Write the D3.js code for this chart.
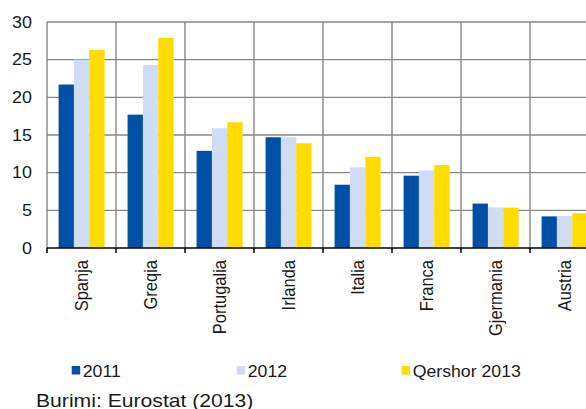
<!DOCTYPE html>
<html>
<head>
<meta charset="utf-8">
<script src="https://cdn.jsdelivr.net/npm/d3@7"></script>
<style>
  html, body { margin: 0; padding: 0; background: #fff; }
  svg { display: block; }
</style>
</head>
<body>
<svg id="chart" width="586" height="409"></svg>
<script>
// Countries and values (percent) for each period
const categories = ["Spanja", "Greqia", "Portugalia", "Irlanda", "Italia", "Franca", "Gjermania", "Austria"];
const seriesNames = ["2011", "2012", "Qershor 2013"];
const values2011 = [21.7, 17.7, 12.9, 14.7, 8.4, 9.6, 5.9, 4.2];
const values2012 = [25.0, 24.3, 15.9, 14.7, 10.7, 10.3, 5.4, 4.25];
const valuesJun2013 = [26.3, 27.9, 16.7, 13.9, 12.1, 11.0, 5.35, 4.6];
const yTicks = [0, 5, 10, 15, 20, 25, 30];
const colors = ["#0050a5", "#cfdcf2", "#ffdc00"];

const FONT = "'Liberation Sans', Arial, Helvetica, sans-serif";
const seriesValues = [values2011, values2012, valuesJun2013];
const svg = d3.select("#chart");

const plot = { left: 47, top: 22, bottom: 248, right: 599 };
const sx = 1.12; // horizontal text stretch

const x = d3.scaleBand().domain(categories).range([plot.left, plot.right]).padding(0);
const bw = x.bandwidth();
const xs = d3.scaleBand().domain(seriesNames).range([bw * 0.168, bw * 0.835]).padding(0);
const y = d3.scaleLinear().domain([0, 30]).range([plot.bottom, plot.top]);

// Horizontal gridlines
svg.append("g").selectAll("line").data(yTicks.filter(d => d > 0)).join("line")
  .attr("x1", plot.left).attr("x2", plot.right)
  .attr("y1", d => y(d)).attr("y2", d => y(d))
  .attr("stroke", "#878787").attr("stroke-width", 1.4);

// Vertical gridlines at category boundaries
const bounds = categories.map(c => x(c)).concat([plot.right]);
svg.append("g").selectAll("line").data(bounds).join("line")
  .attr("x1", d => d).attr("x2", d => d)
  .attr("y1", plot.top).attr("y2", plot.bottom)
  .attr("stroke", "#878787").attr("stroke-width", 1.4);

// Bars
const groups = svg.append("g").selectAll("g").data(categories).join("g")
  .attr("transform", c => `translate(${x(c)},0)`);
groups.selectAll("rect")
  .data((c, i) => seriesNames.map((s, k) => ({ s, k, v: seriesValues[k][i] })))
  .join("rect")
  .attr("x", d => xs(d.s))
  .attr("width", xs.bandwidth())
  .attr("y", d => y(d.v))
  .attr("height", d => y(0) - y(d.v))
  .attr("fill", d => colors[d.k]);

// Baseline with ticks
svg.append("line")
  .attr("x1", plot.left).attr("x2", plot.right)
  .attr("y1", y(0)).attr("y2", y(0))
  .attr("stroke", "#000").attr("stroke-width", 1.5);
svg.append("g").selectAll("line").data(bounds).join("line")
  .attr("x1", d => d).attr("x2", d => d)
  .attr("y1", y(0)).attr("y2", y(0) + 5)
  .attr("stroke", "#000").attr("stroke-width", 1.5);

// Y tick labels
svg.append("g").selectAll("text").data(yTicks).join("text")
  .attr("transform", d => `translate(32,${y(d)}) scale(${sx},1)`)
  .attr("text-anchor", "end")
  .attr("dy", "0.36em")
  .attr("font-family", FONT).attr("font-size", 16).attr("fill", "#1a1a1a")
  .text(d => d);

// Category labels, rotated
svg.append("g").selectAll("text").data(categories).join("text")
  .attr("transform", c => `translate(${x(c) + bw / 2 + 6},260) rotate(-90) scale(1,${sx})`)
  .attr("text-anchor", "end")
  .attr("font-family", FONT).attr("font-size", 16.5).attr("fill", "#1a1a1a")
  .text(c => c);

// Legend
const legend = svg.append("g").selectAll("g").data(seriesNames).join("g")
  .attr("transform", (s, i) => `translate(${71.7 + i * 165},0)`);
legend.append("rect")
  .attr("x", 0).attr("y", 366).attr("width", 8.5).attr("height", 8.5)
  .attr("fill", (s, i) => colors[i]);
legend.append("text")
  .attr("transform", `translate(11,376.7) scale(${sx * 0.97},1)`)
  .attr("font-family", FONT).attr("font-size", 16.3).attr("fill", "#1a1a1a")
  .text(s => s);

// Source note
svg.append("text")
  .attr("transform", `translate(36,406.5) scale(${sx * 1.05},1)`)
  .attr("font-family", FONT).attr("font-size", 18).attr("fill", "#1a1a1a")
  .text("Burimi: Eurostat (2013)");
</script>
</body>
</html>
